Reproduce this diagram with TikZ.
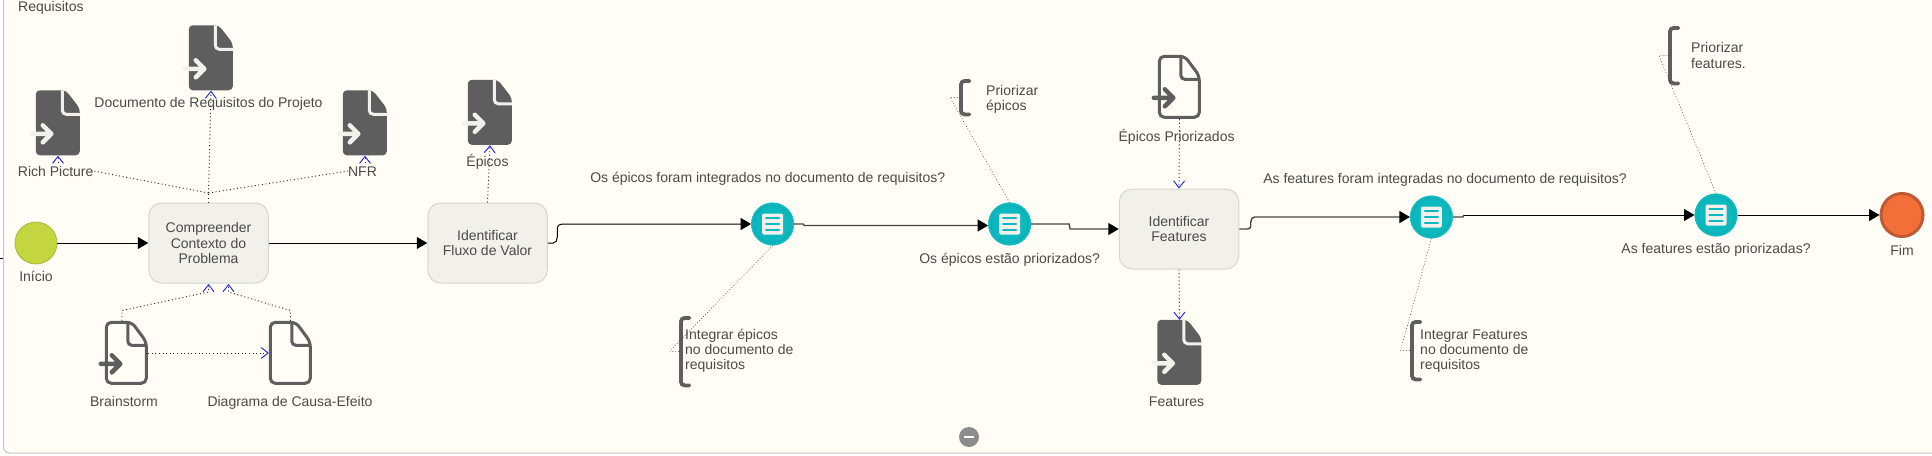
\documentclass[tikz,border=0pt]{standalone}
\usepackage{fontspec}
\setmainfont{Liberation Sans}
\usetikzlibrary{arrows.meta,shapes.geometric,calc}
\definecolor{cream}{HTML}{FFFDF5}
\definecolor{edgegray}{HTML}{C6C6C2}
\definecolor{taskfill}{HTML}{F1F0EA}
\definecolor{taskedge}{HTML}{D6D6CF}
\definecolor{inkgray}{HTML}{5E5E5E}
\definecolor{txt}{HTML}{4A4A4A}
\definecolor{teal1}{HTML}{0CB9BF}
\definecolor{teal2}{HTML}{12A5A9}
\definecolor{startfill}{HTML}{C3D63F}
\definecolor{startedge}{HTML}{A8B93A}
\definecolor{endfill}{HTML}{F27038}
\definecolor{endedge}{HTML}{BD5A33}
\definecolor{openblue}{HTML}{2020F0}
\tikzset{
  x=1pt,y=-1pt,
  lblbase/.style={font=\fontsize{14}{15.2}\selectfont,text=txt,inner sep=0pt},
  lbl/.style={lblbase,align=center,text height=13pt,text depth=3pt},
  lblleft/.style={lblbase,align=left,anchor=west},
  taskbox/.style={draw=taskedge,fill=taskfill,line width=1pt,rounded corners=13pt,minimum width=119.5pt,minimum height=80pt,inner sep=0pt,font=\fontsize{14}{15.2}\selectfont,text=txt,align=center},
  startev/.style={ellipse,draw=startedge,fill=startfill,line width=.8pt,minimum width=42pt,minimum height=42pt,inner sep=0pt},
  endev/.style={ellipse,draw=endedge,fill=endfill,line width=3pt,minimum width=42pt,minimum height=43pt,inner sep=0pt},
  gate/.style={ellipse,draw=teal1,fill=teal1,line width=.5pt,minimum width=42.5pt,minimum height=42.5pt,inner sep=0pt},
  docbox/.style={minimum width=44pt,minimum height=65pt,inner sep=0pt},
  brk/.style={minimum width=8pt,inner sep=0pt},
  flow/.style={draw=black,line width=1pt,-{Triangle[length=10.5pt,width=12pt,color=black]}},
  flowsoft/.style={flow,draw=black!72,line width=1.4pt},
  dep/.style={draw=black!85,line width=.9pt,dash pattern=on 1pt off 2.6pt},
  opentip/.style={-{Straight Barb[length=7pt,width=11pt,color=openblue,line width=.9pt]}},
  assoc/.style={draw=black!80,line width=.5pt,dash pattern=on .9pt off 2pt},
}
\newcommand{\docfilled}[4]{% name cx cy arrow(1/0)
  \node[docbox] (#1) at (#2,#3) {};
  \begin{scope}[shift={(#1.north west)}]
    \fill[inkgray,rounded corners=4pt] (0,0) -- (30,0) -- (44,18) -- (44,65) -- (0,65) -- cycle;
    \draw[taskfill,line width=3pt,rounded corners=4pt] (26.5,0) -- (26.5,24) -- (44.5,24);
    \draw[taskfill,line width=4.5pt,line cap=round,line join=round] (-4,43.5) -- (15,43.5) (7,35) -- (15.5,43.5) -- (7,52);
  \end{scope}}
\newcommand{\docoutline}[4]{% name cx cy arrow(1/0)
  \node[docbox,minimum width=43pt,minimum height=64pt] (#1) at (#2,#3) {};
  \begin{scope}[shift={(#1.north west)}]
    \draw[inkgray,line width=3pt,rounded corners=5pt] (1.5,1.5) -- (27,1.5) -- (41.5,21) -- (41.5,62.5) -- (1.5,62.5) -- cycle;
    \draw[inkgray,line width=3pt,rounded corners=4pt] (23,1.5) -- (23,24.5) -- (42,24.5);
    \ifnum#4=1
    \draw[inkgray,line width=4.5pt,line cap=round,line join=round] (-4,43) -- (15,43) (7,34.5) -- (15.5,43) -- (7,51.5);
    \fi
  \end{scope}}
\newcommand{\gateway}[3]{% name cx cy
  \node[gate] (#1) at (#2,#3) {};
  \begin{scope}[shift={(#1.center)}]
    \draw[teal2,line width=.6pt] (0,0) ellipse [x radius=18.5pt,y radius=18.5pt];
    \fill[taskfill,rounded corners=1.5pt] (-10.5,-10.5) rectangle (10.5,10.5);
    \foreach \yy in {-6,0,6}{\draw[teal1,line width=2.4pt,line cap=round] (-6.5,\yy) -- (6.5,\yy);}
  \end{scope}}
\newcommand{\bracketnode}[4]{% name left top bottom
  \node[brk,anchor=north west,minimum height=#4pt-#3pt] (#1) at (#2,#3) {};
  \draw[inkgray,line width=3.8pt,rounded corners=3.5pt,line cap=round] (#1.north east) -- (#1.north west) -- (#1.south west) -- (#1.south east);}
\begin{document}
\begin{tikzpicture}
\useasboundingbox (0,0) rectangle (1932,455);
\fill[white] (0,0) rectangle (1932,455);
\begin{scope}
  \clip (0,0) rectangle (1932,455);
  \draw[edgegray,fill=cream,line width=1pt,rounded corners=6pt] (3.5,-20) rectangle (1960,453);
\end{scope}
\node[lbl,anchor=west] (title) at (18,7) {Requisitos};

% nodes
\node[startev] (start) at (36,243) {};
\node[lbl] (lstart) at (36,276) {Início};
\node[taskbox] (t1) at (208.5,243) {Compreender\\Contexto do\\Problema};
\node[taskbox] (t2) at (487.5,243) {Identificar\\Fluxo de Valor};
\node[taskbox] (t3) at (1179,229) {Identificar\\Features};
\gateway{g1}{772.6}{224}
\gateway{g2}{1009.6}{224}
\gateway{g3}{1431.4}{217}
\gateway{g4}{1716}{215}
\node[endev] (fim) at (1902,215) {};
\node[lbl] (lfim) at (1902,250) {Fim};

% documents
\docfilled{dreq}{211}{58}{1}
\docfilled{drich}{58}{123}{1}
\docfilled{dnfr}{365}{123}{1}
\docfilled{depic}{490}{112.5}{1}
\docoutline{dbrain}{126.5}{353}{1}
\docoutline{dcausa}{290.5}{353}{0}
\docoutline{dprio}{1179.5}{87}{1}
\docfilled{dfeat}{1179.5}{352.5}{1}

% labels
\node[lbl] (lreq) at (208.5,102) {Documento de Requisitos do Projeto};
\node[lbl] (lrich) at (55.7,171) {Rich Picture};
\node[lbl] (lnfr) at (362.5,171) {NFR};
\node[lbl] (lepic) at (487.5,161) {Épicos};
\node[lbl] (lbrain) at (124,401) {Brainstorm};
\node[lbl] (lcausa) at (290,401) {Diagrama de Causa-Efeito};
\node[lbl] (lprio) at (1176.6,136) {Épicos Priorizados};
\node[lbl] (lfeat) at (1176.6,401) {Features};
\node[lbl] (lg1) at (767.7,177.5) {Os épicos foram integrados no documento de requisitos?};
\node[lbl] (lg2) at (1009.6,258) {Os épicos estão priorizados?};
\node[lbl] (lg3) at (1445,178.5) {As features foram integradas no documento de requisitos?};
\node[lbl] (lg4) at (1716,248) {As features estão priorizadas?};

% annotations
\bracketnode{bie}{681}{318}{385}
\bracketnode{bpe}{961}{81}{114}
\bracketnode{bif}{1412}{322}{379}
\bracketnode{bpf}{1670}{28}{83}
\node[lblleft] (tie) at (685,350.5) {Integrar épicos\\no documento de\\requisitos};
\node[lblleft] (tpe) at (986,99.5) {Priorizar\\épicos};
\node[lblleft] (tif) at (1420,351) {Integrar Features\\no documento de\\requisitos};
\node[lblleft] (tpf) at (1691,55.5) {Priorizar\\features.};
\coordinate (kie) at (669.5,351.5);
\coordinate (kpe) at (950,97.5);
\coordinate (kif) at (1400.5,350.5);
\coordinate (kpf) at (1659,55.5);
\draw[assoc] (g1.south) -- (kie) -- (bie.west);
\draw[assoc] (g2.north) -- (kpe) -- (bpe.west);
\draw[assoc] (g3.south) -- (kif) -- (bif.west);
\draw[assoc] (g4.north) -- (kpf) -- (bpf.west);

% sequence flows
\draw[flow] (start.east) -- (t1.west);
\draw[flow] (t1.east) -- (t2.west);
\draw[flow] (t2.east) -- ++(5.5,0) .. controls +(3,0) and +(0,3) .. ++(4,-6) -- ++(0,-8) .. controls +(0,-4) and +(-2,0) .. ++(5,-5) -- (g1.west);
\draw[flowsoft] (g1.east) -- ++(9,0) -- ++(1,1.5) -- ($(g2.west)+(0,1.5)$);
\draw[flowsoft] (g2.east) -- ++(38,0) -- ++(1,5) -- (t3.west);
\draw[flowsoft] (t3.east) -- ++(8,0) .. controls +(2,0) and +(0,2) .. ++(3.5,-3) -- ++(0,-4) .. controls +(0,-3) and +(-2,0) .. ++(4,-5) -- (g3.west);
\draw[flowsoft,-] (g3.east) -- ++(10,0) -- ++(1,-2);
\draw[flow] ($(g3.east)+(11,-2)$) -- (g4.west);
\draw[flow] (g4.east) -- (fim.west);

% data associations
\coordinate (jt1) at (208.5,193);
\draw[dep] (t1.north) -- (jt1);
\draw[dep] (jt1) -- (lrich.east);
\draw[dep] (jt1) -- (lnfr.west);
\draw[dep,opentip] (jt1) -- (dreq.south);
\draw[dep,opentip] (lrich.north -| drich.south) -- (drich.south);
\draw[dep,opentip] (lnfr.north -| dnfr.south) -- (dnfr.south);
\draw[dep,opentip] (t2.north) -- (depic.south);
\coordinate (ab) at (122,310.5);
\coordinate (ac) at (290.5,310.5);
\coordinate (tb) at (208.5,292);
\coordinate (tc) at (228.5,292);
\draw[dep,opentip] (dbrain.north -| ab) -- (ab) -- (tb) -- (208.5,284);
\draw[dep,opentip] (dcausa.north) -- (ac) -- (tc) -- (228.5,284);
\draw[dep,opentip] (dbrain.east) -- (dcausa.west);
\draw[dep,opentip] (dprio.south) -- (t3.north);
\draw[dep,opentip] (t3.south) -- (dfeat.north);

% stub and collapse marker
\coordinate (stub) at (3,258);
\draw[black,line width=1pt] (0,258) -- (stub);
\node[circle,fill=black!45,minimum size=20pt,inner sep=0pt] (minus) at (969,437) {};
\draw[white,line width=2.4pt] ($(minus.center)+(-5,0)$) -- ($(minus.center)+(5,0)$);
\end{tikzpicture}
\end{document}
